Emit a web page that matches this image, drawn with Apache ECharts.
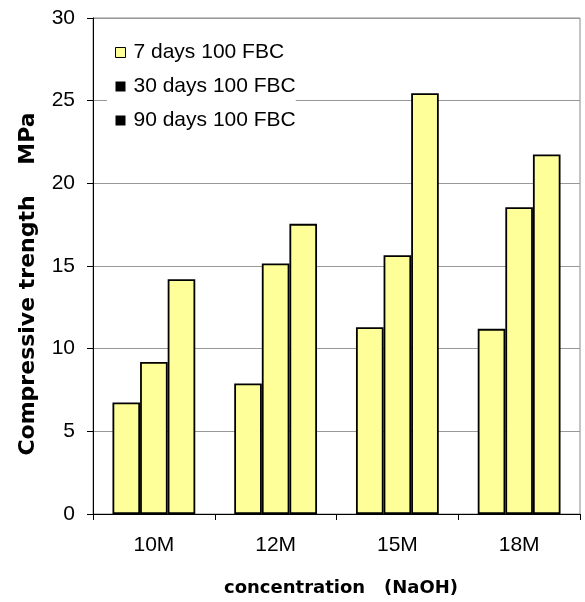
<!DOCTYPE html>
<html>
<head>
    <meta charset="utf-8">
    <title>Compressive strength</title>
    <script src="https://cdn.jsdelivr.net/npm/echarts@6/dist/echarts.min.js"></script>
    <style>
        body { margin: 0; background: #fff; }
    </style>
</head>
<body>
<div id="main" style="width: 585px;height:602px;"></div>
<script type="text/javascript">
    // 数据
    const categories = ['10M', '12M', '15M', '18M'];
    const seriesNames = ['7 days 100 FBC', '30 days 100 FBC', '90 days 100 FBC'];
    const days7 = [6.75, 7.9, 11.3, 11.2];
    const days30 = [9.2, 15.15, 15.65, 18.55];
    const days90 = [14.2, 17.55, 25.45, 21.75];
    const yTicks = [0, 5, 10, 15, 20, 25, 30];

    const barFill = '#FFFF99';
    const font = 'Arial, "Liberation Sans", sans-serif';
    const titleFont = '"DejaVu Sans", Verdana, sans-serif';

    let myChart = echarts.init(document.getElementById('main'));

    function makeBar(name, values) {
        return {
            name: name,
            type: 'bar',
            data: values,
            barGap: '0%',
            barCategoryGap: '32%',
            itemStyle: {
                color: barFill,
                borderColor: '#000',
                borderWidth: 1.8
            }
        };
    }

    myChart.setOption({
        animation: false,
        textStyle: { fontFamily: font },
        grid: {
            left: 93,
            right: 5,
            top: 18,
            bottom: 86,
            show: true,
            borderColor: '#888',
            borderWidth: 1
        },
        legend: {
            orient: 'vertical',
            left: 107,
            top: 36,
            itemWidth: 10,
            itemHeight: 10,
            itemGap: 13,
            padding: [6, 0, 6, 8],
            backgroundColor: '#fff',
            textStyle: { fontSize: 21, color: '#000', fontFamily: font, padding: [0, 0, 0, 3] },
            data: [
                { name: seriesNames[0], icon: 'rect', itemStyle: { color: barFill, borderColor: '#000', borderWidth: 1 } },
                { name: seriesNames[1], icon: 'rect', itemStyle: { color: '#000', borderWidth: 0 } },
                { name: seriesNames[2], icon: 'rect', itemStyle: { color: '#000', borderWidth: 0 } }
            ]
        },
        xAxis: {
            type: 'category',
            data: categories,
            name: 'concentration   (NaOH)',
            nameLocation: 'middle',
            nameGap: 65,
            nameTextStyle: { fontSize: 18, fontWeight: 'bold', color: '#000', fontFamily: titleFont, padding: [0, 0, 0, 9] },
            axisLine: { lineStyle: { color: '#000', width: 1 } },
            axisTick: { show: true, length: 6, lineStyle: { color: '#000' } },
            axisLabel: { fontSize: 21, color: '#000', margin: 21 }
        },
        yAxis: {
            type: 'value',
            min: yTicks[0],
            max: yTicks[yTicks.length - 1],
            interval: 5,
            name: 'Compressive trength    MPa',
            nameLocation: 'middle',
            nameGap: 54,
            nameTextStyle: { fontSize: 22, fontWeight: 'bold', color: '#000', fontFamily: titleFont, padding: [0, 36, 0, 0] },
            axisLine: { show: true, lineStyle: { color: '#000', width: 1 } },
            axisTick: { show: true, length: 6, lineStyle: { color: '#000' } },
            axisLabel: { fontSize: 21, color: '#000', margin: 18 },
            splitLine: { lineStyle: { color: '#999', width: 1 } }
        },
        series: [
            makeBar(seriesNames[0], days7),
            makeBar(seriesNames[1], days30),
            makeBar(seriesNames[2], days90)
        ]
    });
</script>
</body>
</html>
